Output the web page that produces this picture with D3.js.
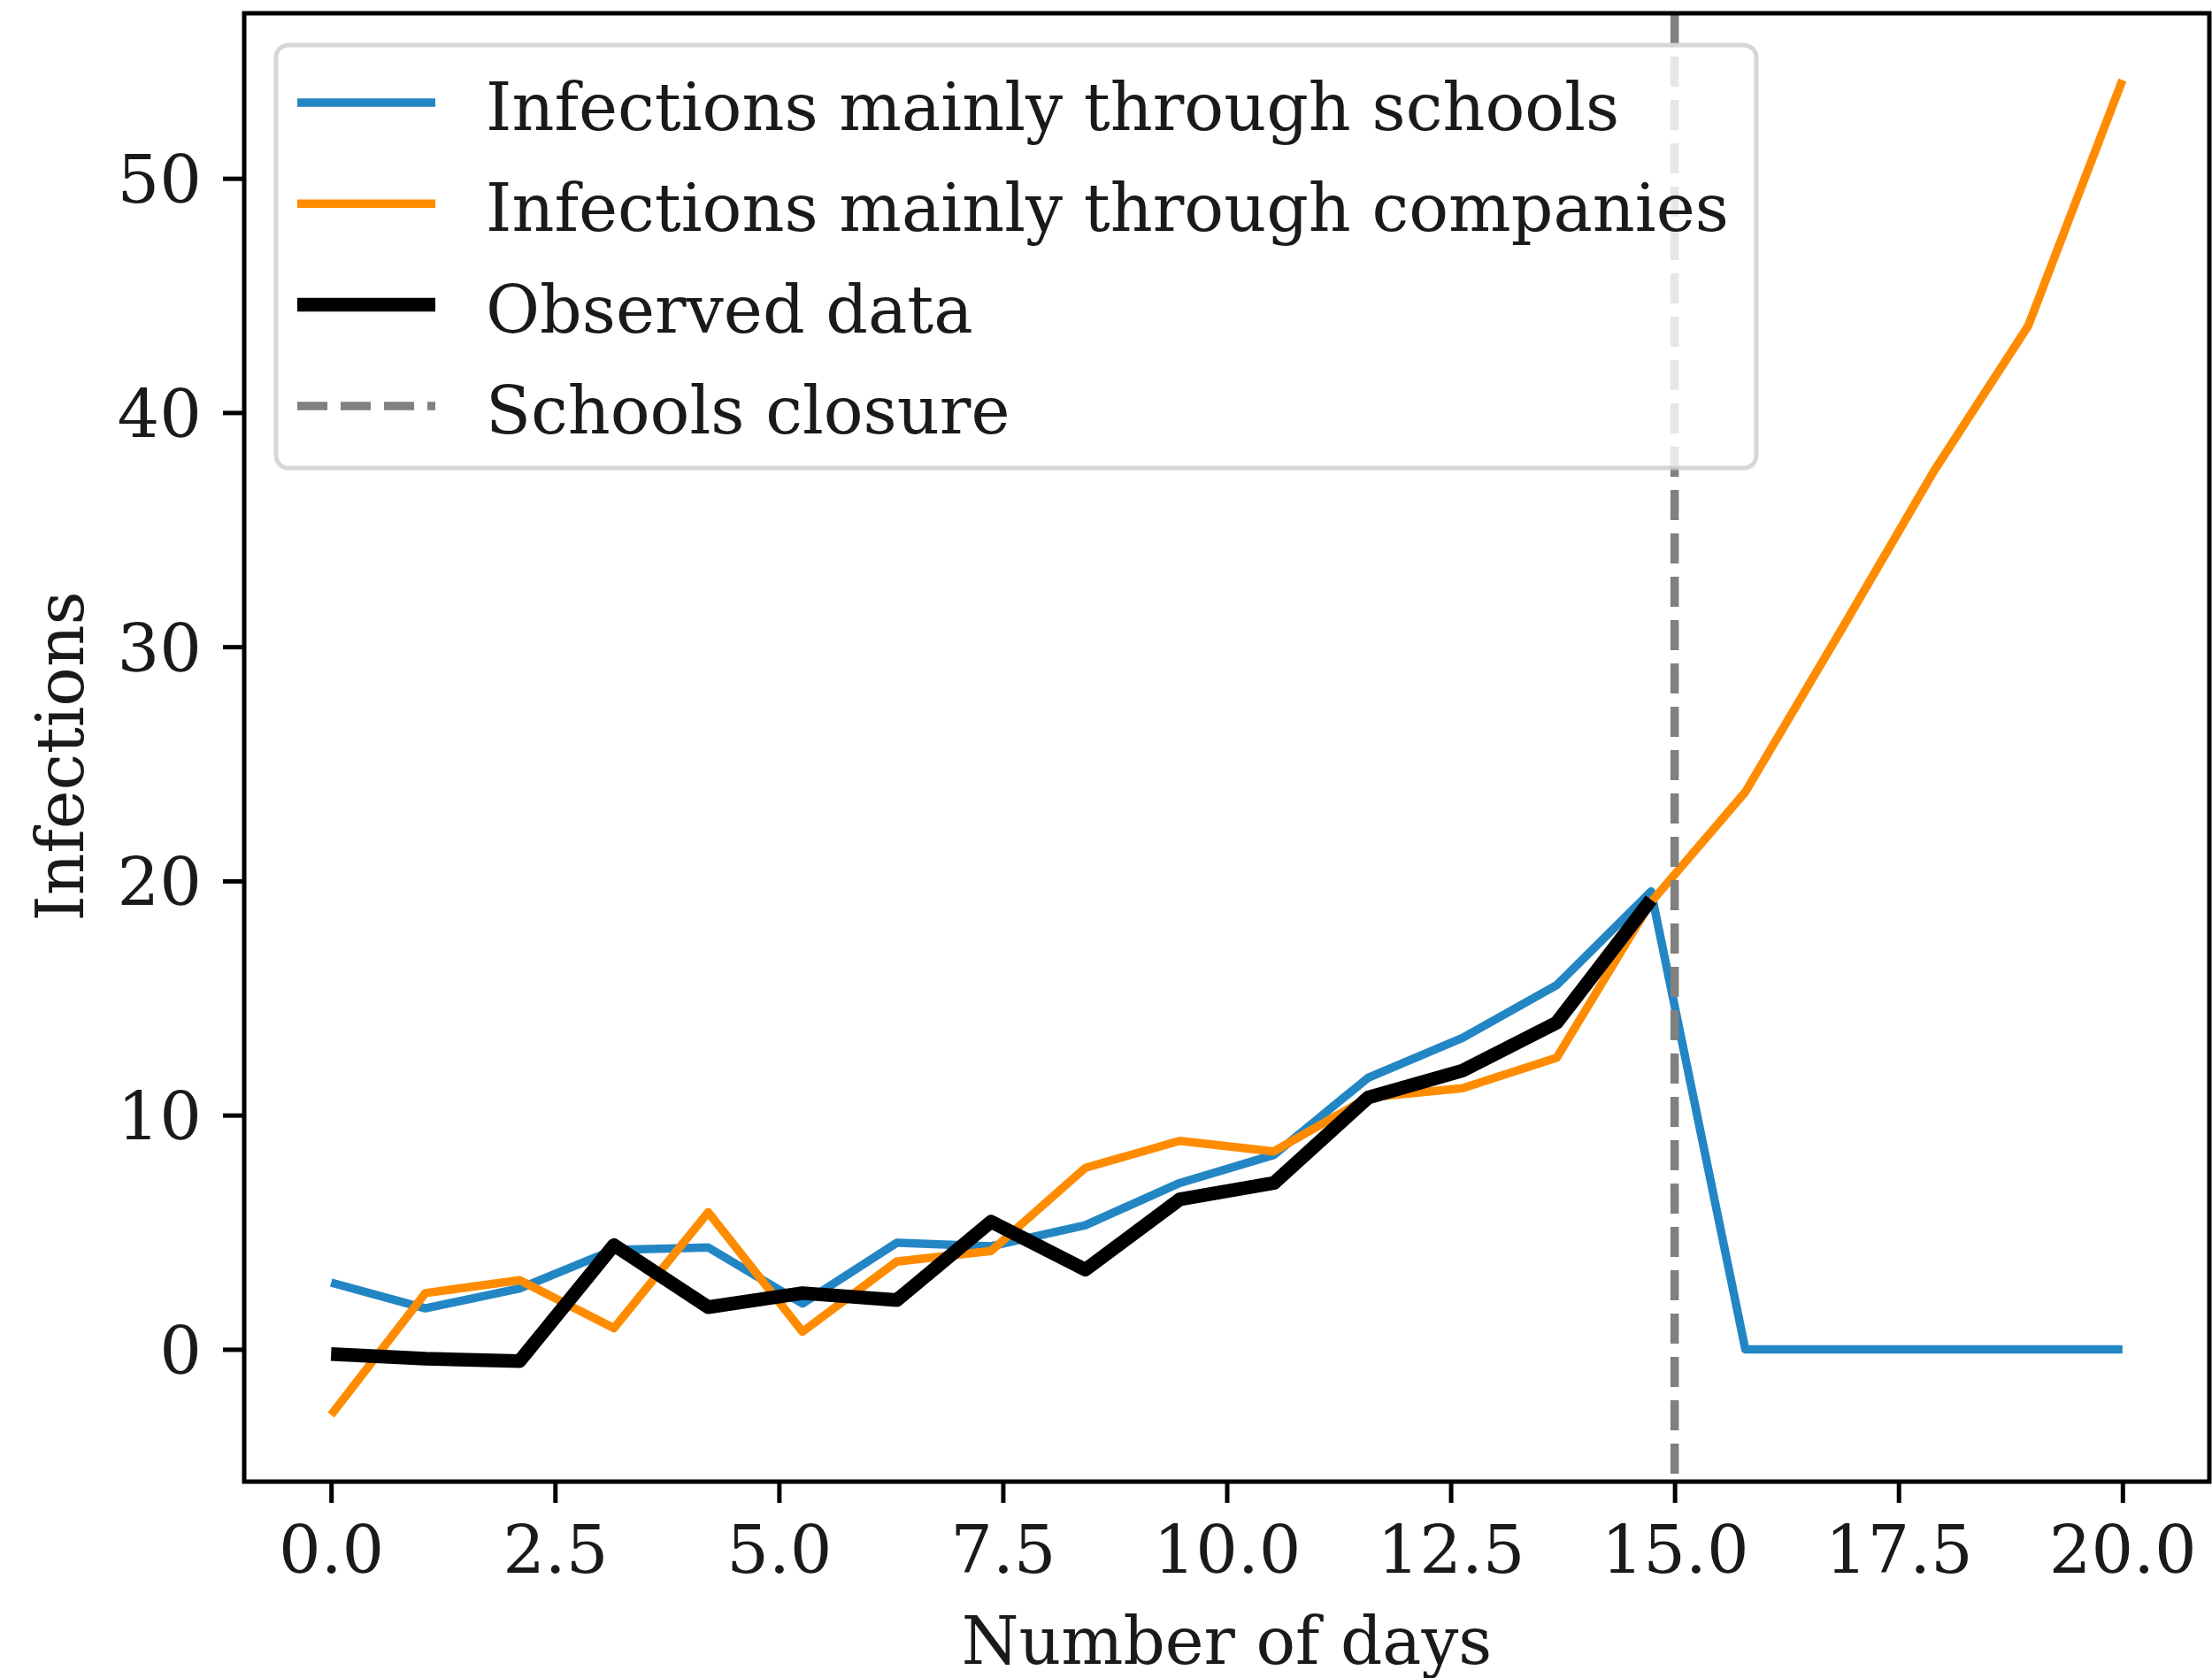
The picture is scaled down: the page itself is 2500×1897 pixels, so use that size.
<!DOCTYPE html>
<html>
<head>
<meta charset="utf-8">
<script src="https://cdn.jsdelivr.net/npm/d3@7"></script>
<style>
  html, body { margin: 0; padding: 0; background: #ffffff; }
  svg { display: block; }
</style>
</head>
<body>
<svg id="chart" width="2500" height="1897"></svg>
<script>
// Simulated daily infections under two hypotheses, plus the observed counts.
const days = d3.range(20).map(i => i * 20 / 19);   // 20 evenly spaced days, 0 … 20

const schoolsSeries = [2.85, 1.75, 2.6, 4.25, 4.35, 1.95, 4.55, 4.4, 5.3, 7.1,
                       8.3, 11.6, 13.3, 15.55, 19.55, 0, 0, 0, 0, 0];
const companiesSeries = [-2.8, 2.4, 2.95, 0.9, 5.85, 0.75, 3.75, 4.2, 7.75, 8.9,
                         8.45, 10.75, 11.15, 12.45, 19.1, 23.8, 30.6, 37.5, 43.7, 54.2];
const observedSeries = [-0.2, -0.4, -0.5, 4.45, 1.8, 2.4, 2.1, 5.45, 3.4, 6.4,
                        7.1, 10.75, 11.9, 13.95, 19.2];

const closureDay = 15;

const xTicks = [0, 2.5, 5, 7.5, 10, 12.5, 15, 17.5, 20];
const yTicks = [0, 10, 20, 30, 40, 50];

const legendLabels = [
  "Infections mainly through schools",
  "Infections mainly through companies",
  "Observed data",
  "Schools closure"
];

const xLabel = "Number of days";
const yLabel = "Infections";

// ---- layout & styles ----
const plot = { left: 276, right: 2497, top: 15, bottom: 1675 };
const font = "'DejaVu Serif', 'Liberation Serif', serif";
const tickFont = 75;
const labelFont = 74;
const legendFont = 74.5;
const colors = { schools: "#2386c4", companies: "#ff8c00", observed: "#000000", closure: "#808080" };
const thinW = 9.5, thickW = 15.5;
const dash = "34,15";

const svg = d3.select("#chart");

// view limits: a small margin around the data on both axes
const allY = schoolsSeries.concat(companiesSeries, observedSeries);
const yMin = d3.min(allY), yMax = d3.max(allY);
const yPad = (yMax - yMin) * 0.05;
const xPad = (d3.max(days) - d3.min(days)) * 0.0485;

const x = d3.scaleLinear()
  .domain([d3.min(days) - xPad, d3.max(days) + xPad])
  .range([plot.left, plot.right]);
const y = d3.scaleLinear()
  .domain([yMin - yPad, yMax + yPad])
  .range([plot.bottom, plot.top]);

const line = d3.line().x(d => x(d[0])).y(d => y(d[1]));

const g = svg.append("g");

// series lines
const seriesDefs = [
  { values: schoolsSeries, color: colors.schools, width: thinW },
  { values: companiesSeries, color: colors.companies, width: thinW },
  { values: observedSeries, color: colors.observed, width: thickW }
];
seriesDefs.forEach(s => {
  g.append("path")
    .datum(s.values.map((v, i) => [days[i], v]))
    .attr("d", line)
    .attr("fill", "none")
    .attr("stroke", s.color)
    .attr("stroke-width", s.width)
    .attr("stroke-linejoin", "round")
    .attr("stroke-linecap", "butt");
});

// vertical marker for the school closure
g.append("line")
  .attr("x1", x(closureDay)).attr("x2", x(closureDay))
  .attr("y1", plot.top).attr("y2", plot.bottom)
  .attr("stroke", colors.closure)
  .attr("stroke-width", thinW)
  .attr("stroke-dasharray", dash);

// axes
const xAxis = d3.axisBottom(x)
  .tickValues(xTicks)
  .tickFormat(d3.format(".1f"))
  .tickSizeInner(24).tickSizeOuter(0).tickPadding(20);
const yAxis = d3.axisLeft(y)
  .tickValues(yTicks)
  .tickFormat(d3.format("d"))
  .tickSizeInner(24).tickSizeOuter(0).tickPadding(24);

const gx = svg.append("g").attr("transform", `translate(0,${plot.bottom})`).call(xAxis);
const gy = svg.append("g").attr("transform", `translate(${plot.left},0)`).call(yAxis);
[gx, gy].forEach(a => {
  a.select(".domain").remove();
  a.selectAll(".tick line").attr("stroke", "#000").attr("stroke-width", 5);
  a.selectAll(".tick text")
    .attr("fill", "#1a1a1a")
    .style("font-family", font)
    .style("font-size", tickFont + "px");
});
gx.selectAll(".tick text").attr("y", 103).attr("dy", 0);
gy.selectAll(".tick text").attr("dy", "0.36em");

// frame around the plotting area
svg.append("rect")
  .attr("x", plot.left).attr("y", plot.top)
  .attr("width", plot.right - plot.left).attr("height", plot.bottom - plot.top)
  .attr("fill", "none").attr("stroke", "#000").attr("stroke-width", 5);

// axis titles
svg.append("text")
  .attr("x", (plot.left + plot.right) / 2).attr("y", 1881)
  .attr("text-anchor", "middle")
  .attr("fill", "#1a1a1a")
  .style("font-family", font).style("font-size", labelFont + "px")
  .text(xLabel);
svg.append("text")
  .attr("transform", `translate(94,${(plot.top + plot.bottom) / 2 + 10}) rotate(-90)`)
  .attr("text-anchor", "middle")
  .attr("fill", "#1a1a1a")
  .style("font-family", font).style("font-size", labelFont + "px")
  .text(yLabel);

// legend
const legend = svg.append("g");
legend.append("rect")
  .attr("x", 312).attr("y", 51).attr("width", 1673).attr("height", 478)
  .attr("rx", 14).attr("ry", 14)
  .attr("fill", "#ffffff").attr("fill-opacity", 0.8)
  .attr("stroke", "#cccccc").attr("stroke-opacity", 0.8).attr("stroke-width", 5);

const legendItems = [
  { label: legendLabels[0], color: colors.schools, width: thinW, dash: null },
  { label: legendLabels[1], color: colors.companies, width: thinW, dash: null },
  { label: legendLabels[2], color: colors.observed, width: thickW, dash: null },
  { label: legendLabels[3], color: colors.closure, width: thinW, dash: dash }
];
const rowY0 = 116, rowStep = 114.3;
legendItems.forEach((it, i) => {
  const cy = rowY0 + i * rowStep;
  const h = legend.append("line")
    .attr("x1", 336).attr("x2", 492)
    .attr("y1", cy).attr("y2", cy)
    .attr("stroke", it.color).attr("stroke-width", it.width);
  if (it.dash) h.attr("stroke-dasharray", it.dash);
  legend.append("text")
    .attr("x", 549).attr("y", cy + 31)
    .attr("fill", "#1a1a1a")
    .style("font-family", font).style("font-size", legendFont + "px")
    .text(it.label);
});
</script>
</body>
</html>
